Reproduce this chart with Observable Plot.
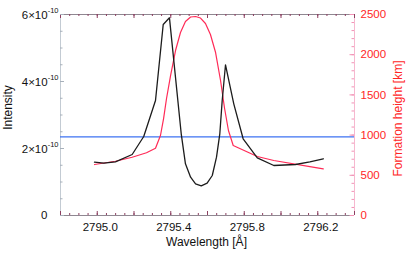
<!DOCTYPE html>
<html><head><meta charset="utf-8">
<script src="https://cdn.jsdelivr.net/npm/d3@7"></script>
<script src="https://cdn.jsdelivr.net/npm/@observablehq/plot@0.6"></script>
<style>
html,body{margin:0;padding:0;background:#fff;}
svg{font-family:"Liberation Sans",Arial,sans-serif;}
</style></head><body><div id="chart"></div>
<script>
// Intensity profile (units of 1e-10)
const wavelength = [2794.985, 2795.036, 2795.099, 2795.190, 2795.253, 2795.317, 2795.359, 2795.393,
  2795.457, 2795.480, 2795.508, 2795.535, 2795.566, 2795.598, 2795.626, 2795.649, 2795.667, 2795.680,
  2795.698, 2795.743, 2795.794, 2795.871, 2795.961, 2796.079, 2796.157, 2796.230];
const intensity = [1.591, 1.561, 1.603, 1.821, 2.358, 3.433, 5.701, 5.901,
  2.439, 1.543, 1.143, 0.946, 0.887, 0.964, 1.194, 1.740, 2.439, 3.433,
  4.499, 3.334, 2.290, 1.722, 1.493, 1.522, 1.603, 1.693];
// Formation height (km)
const heightWavelength = [2794.985, 2795.099, 2795.190, 2795.268, 2795.317, 2795.344, 2795.361, 2795.377,
  2795.399, 2795.426, 2795.453, 2795.480, 2795.508, 2795.535, 2795.562, 2795.589, 2795.616, 2795.644,
  2795.671, 2795.693, 2795.714, 2795.740, 2795.871, 2795.961, 2796.157, 2796.230];
const formationHeight = [634, 675, 725, 780, 837, 995, 1206, 1455,
  1741, 2052, 2276, 2413, 2469, 2475, 2456, 2388, 2251, 2027,
  1679, 1331, 1057, 871, 734, 684, 609, 581];
const thresholdIntensity = 2.35;
const xTickLabels = [2795.0, 2795.4, 2795.8, 2796.2];
const yTickLabels = [0, 2, 4, 6];
const heightTickLabels = [0, 500, 1000, 1500, 2000, 2500];

const X0 = 2794.8, X1 = 2796.4, Y1 = 6, HMAX = 2500;
const k = Y1 / HMAX;
const pxY = Y1 / 201, pxX = (X1 - X0) / 294;
const xMajor = d3.range(0, 9).map(i => X0 + i * 0.2);
const xMinor = d3.range(0, 33).map(i => X0 + i * 0.05);
const yMinor = d3.range(0, 13).map(i => i * 0.5);
const hMinor = d3.range(0, 26).map(i => i * 100 * k);
const hMajor = heightTickLabels.map(h => h * k);

const boxCol = "#8f8791", xtickCol = "#8c3f60", leftCol = "#c3cbd3", leftTick = "#a7b0ba";
const rightCol = "#f6b8cf", rightTick = "#f293b6", red = "#ff2b57", redText = "#ff2626";

const profile = wavelength.map((w, i) => ({w, v: intensity[i]}));
const heights = heightWavelength.map((w, i) => ({w, v: formationHeight[i] * k}));

const plot = Plot.plot({
  width: 407, height: 254,
  marginLeft: 60, marginRight: 53, marginTop: 14, marginBottom: 39,
  style: {fontFamily: "Liberation Sans, Arial, sans-serif", fontSize: "11.5px", background: "#fff", overflow: "visible"},
  x: {domain: [X0, X1], axis: null},
  y: {domain: [0, Y1], axis: null},
  marks: [
    // frame
    Plot.ruleY([0, Y1], {stroke: boxCol, strokeWidth: 1}),
    Plot.ruleX([X0], {stroke: leftCol, strokeWidth: 1}),
    Plot.ruleX([X1], {stroke: rightCol, strokeWidth: 1}),
    // x ticks bottom & top
    Plot.ruleX(xMinor, {x: d => d, y1: 0, y2: 2 * pxY, stroke: xtickCol}),
    Plot.ruleX(xMajor, {x: d => d, y1: 0, y2: 4 * pxY, stroke: xtickCol}),
    Plot.ruleX(xMinor, {x: d => d, y1: Y1, y2: Y1 - 2 * pxY, stroke: xtickCol}),
    Plot.ruleX(xMajor, {x: d => d, y1: Y1, y2: Y1 - 4 * pxY, stroke: xtickCol}),
    // left ticks
    Plot.ruleY(yMinor, {y: d => d, x1: X0, x2: X0 + 2.5 * pxX, stroke: leftTick}),
    Plot.ruleY(yTickLabels, {y: d => d, x1: X0, x2: X0 + 4 * pxX, stroke: leftTick}),
    // right ticks
    Plot.ruleY(hMinor, {y: d => d, x1: X1, x2: X1 - 2.5 * pxX, stroke: rightTick}),
    Plot.ruleY(hMajor, {y: d => d, x1: X1, x2: X1 - 4.5 * pxX, stroke: rightTick}),
    // data
    Plot.ruleY([thresholdIntensity], {stroke: "#3d72f2", strokeWidth: 1.2}),
    Plot.line(heights, {x: "w", y: "v", stroke: red, strokeWidth: 1.2}),
    Plot.line(profile, {x: "w", y: "v", stroke: "#1c1c1c", strokeWidth: 1.3}),
    // tick labels
    Plot.text(xTickLabels, {x: d => d, y: 0, dy: 12, dx: 3, text: d => d.toFixed(1), fill: "#111"}),
    Plot.text(yTickLabels.filter(d => d === 0), {x: X0, y: d => d, dx: -13, text: d => String(d), textAnchor: "end", fill: "#111"}),
    Plot.text(yTickLabels.filter(d => d !== 0), {x: X0, y: d => d, dx: -2, dy: 1, text: d => `${d}×10`, textAnchor: "end", fill: "#111"}),
    Plot.text(heightTickLabels, {x: X1, y: d => d * k, dx: 6, text: d => String(d), textAnchor: "start", fill: redText}),
    // axis titles
    Plot.text(["Wavelength [Å]"], {frameAnchor: "bottom", dy: 30, dx: -1, fontSize: 12, fill: "#111"}),
    Plot.text(["Intensity"], {frameAnchor: "left", textAnchor: "middle", dx: -52.5, dy: -7.5, rotate: -90, fontSize: 12, fill: "#111"}),
    Plot.text(["Formation height [km]"], {frameAnchor: "right", textAnchor: "middle", dx: 44, dy: 3.5, rotate: -90, fontSize: 12, fill: redText})
  ]
});

// superscript exponents on left tick labels
d3.select(plot).selectAll("text").each(function() {
  const t = d3.select(this);
  const s = t.text();
  if (!/^\d×10$/.test(s)) return;
  t.text("");
  t.append("tspan").text(s);
  t.append("tspan").attr("dy", "-0.8em").attr("font-size", "7.5px").text("-10");
});

document.getElementById("chart").appendChild(plot);
</script></body></html>
